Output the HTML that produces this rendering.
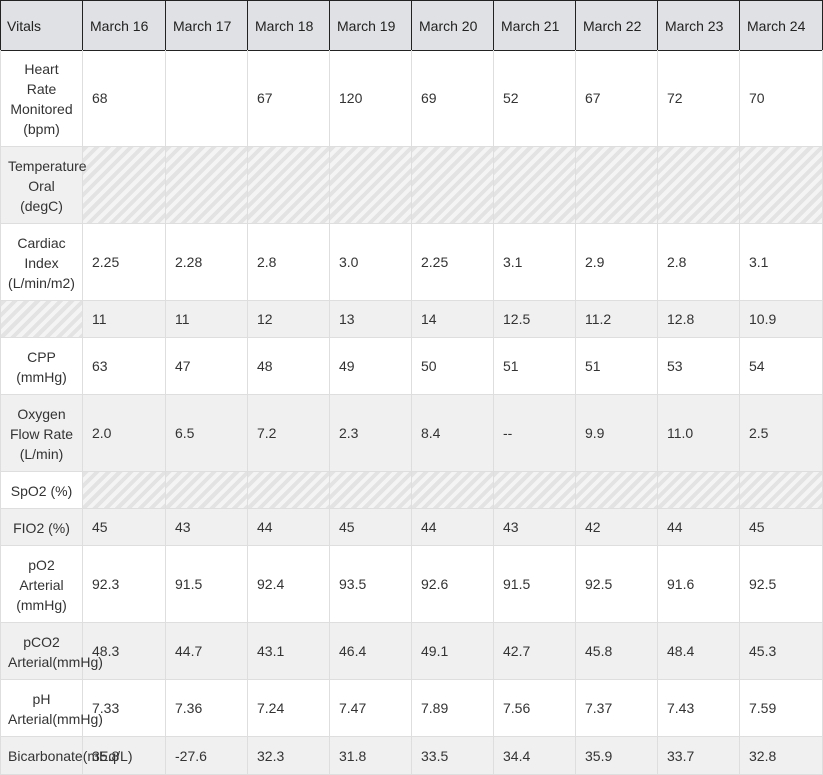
<!DOCTYPE html>
<html><head><meta charset="utf-8">
<style>
body{margin:0;width:823px;height:768px;overflow:hidden;background:#fff;font-family:"Liberation Sans",sans-serif;font-size:14px;color:#333;}
#t{position:relative;width:823px;height:768px;}
.c{position:absolute;box-sizing:border-box;display:flex;align-items:center;padding:0 8px;line-height:20px;border-right:1px solid #dedede;border-bottom:1px solid #dedede;}
.v{padding:0 9px;}
.lt{position:absolute;box-sizing:border-box;display:flex;align-items:center;padding:0 8px;line-height:20px;z-index:3;text-align:center;}
.lt span{display:block;width:67px;flex:none;}
.h{background:#e0e1e4;border:1px solid #222;border-left:none;padding:0 7px;color:#222;}
.h.first{border-left:1px solid #222;padding:0 6px;}
.g{background:#f0f0f0;}
.x{background:repeating-linear-gradient(135deg,#e3e3e3 0 4px,#f4f4f4 4px 8px);}
</style></head><body>
<div id="t"></div>
<script>
const cols=[0,83,166,248,330,412,494,576,658,740,823];
const rowsY=[0,50,147,224,301,338,395,472,509,546,623,680,737,775];
const headers=["Vitals","March 16","March 17","March 18","March 19","March 20","March 21","March 22","March 23","March 24"];
const labels=["Heart Rate Monitored (bpm)","Temperature Oral (degC)","Cardiac Index (L/min/m2)","","CPP (mmHg)","Oxygen Flow Rate (L/min)","SpO2 (%)","FIO2 (%)","pO2 Arterial (mmHg)","pCO2 Arterial(mmHg)","pH Arterial(mmHg)","Bicarbonate(mEq/L)"];
const values=[
["68","","67","120","69","52","67","72","70"],
null,
["2.25","2.28","2.8","3.0","2.25","3.1","2.9","2.8","3.1"],
["11","11","12","13","14","12.5","11.2","12.8","10.9"],
["63","47","48","49","50","51","51","53","54"],
["2.0","6.5","7.2","2.3","8.4","--","9.9","11.0","2.5"],
null,
["45","43","44","45","44","43","42","44","45"],
["92.3","91.5","92.4","93.5","92.6","91.5","92.5","91.6","92.5"],
["48.3","44.7","43.1","46.4","49.1","42.7","45.8","48.4","45.3"],
["7.33","7.36","7.24","7.47","7.89","7.56","7.37","7.43","7.59"],
["35.8","-27.6","32.3","31.8","33.5","34.4","35.9","33.7","32.8"]];
const t=document.getElementById('t');
function box(x0,x1,y0,y1,cls){const d=document.createElement('div');d.className=cls;d.style.left=x0+'px';d.style.top=y0+'px';d.style.width=(x1-x0)+'px';d.style.height=(y1-y0)+'px';t.appendChild(d);return d;}
for(let i=0;i<headers.length;i++){
 const d=box(cols[i],cols[i+1],0,51,'c h'+(i==0?' first':''));
 d.textContent=headers[i];
 
 
}
for(let r=0;r<labels.length;r++){
 const g=r%2==1?' g':'';
 const y0=rowsY[r+1],y1=rowsY[r+2];
 const lab=box(0,83,y0,y1,'c'+g+(labels[r]===''?' x':''));
 lab.style.borderLeft='1px solid #dedede';
 
 
 const lt=box(0,83,y0,y1,'lt');
 lt.innerHTML='<span>'+labels[r]+'</span>';
 
 
 for(let c=0;c<9;c++){
  const v=values[r];
  const d=box(cols[c+1],cols[c+2],y0,y1,'c v'+(v?g:' x'));
  if(v)d.textContent=v[c];
  
  
 }
}
</script>
</body></html>
